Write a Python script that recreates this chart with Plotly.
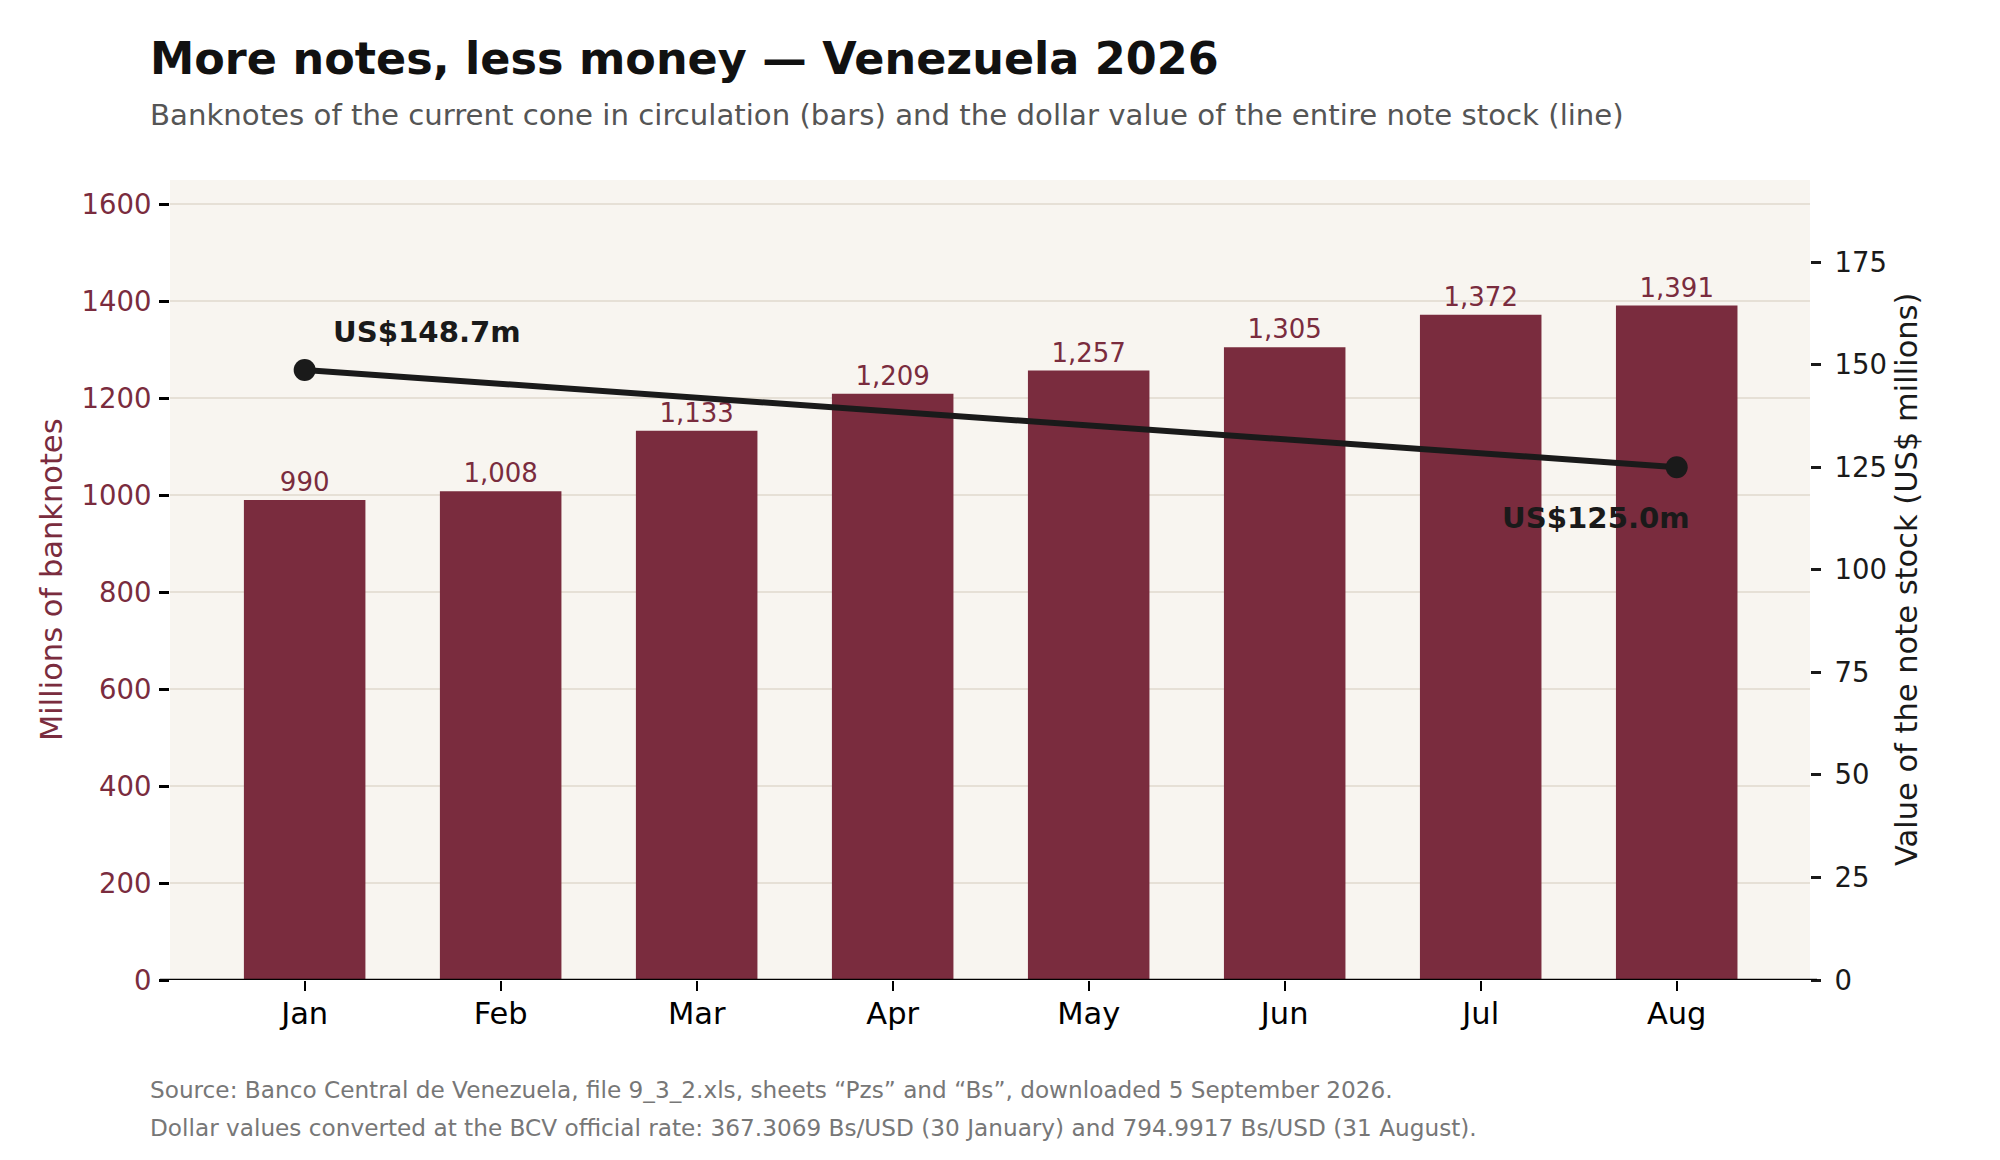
import plotly.graph_objects as go

# ---- data ----
months = ["Jan", "Feb", "Mar", "Apr", "May", "Jun", "Jul", "Aug"]
banknotes_millions = [990, 1008, 1133, 1209, 1257, 1305, 1372, 1391]
value_months = ["Jan", "Aug"]
value_usd_millions = [148.7, 125.0]
value_labels = ["US$148.7m", "US$125.0m"]
left_ticks = [0, 200, 400, 600, 800, 1000, 1200, 1400, 1600]
right_ticks = [0, 25, 50, 75, 100, 125, 150, 175]

# ---- styling ----
MAROON = "#7a2c3e"
DARK = "#1a1a1a"
BG = "#f8f5f0"
GRID = "#e6e0d6"
FONT = "DejaVu Sans"

OFF = 8  # page body margin
W, H = 2000 - OFF, 1160 - OFF
ML, MT = 170 - OFF, 180 - OFF
PW, PH = 1640, 800
MR, MB = W - ML - PW, H - MT - PH


def px_x(px):
    return (px - OFF - ML) / PW


def px_y(py):
    return (MT + PH - (py - OFF)) / PH


fig = go.Figure()

fig.add_trace(go.Bar(
    x=months, y=banknotes_millions,
    marker=dict(color=MAROON, line=dict(width=0)),
    width=0.62,
    text=banknotes_millions,
    texttemplate="%{y:,}",
    textposition="outside",
    textfont=dict(family=FONT, size=26, color=MAROON),
    cliponaxis=False,
    showlegend=False,
    yaxis="y",
))

fig.add_trace(go.Scatter(
    x=value_months, y=value_usd_millions,
    mode="lines+markers",
    line=dict(color=DARK, width=6),
    marker=dict(color=DARK, size=22),
    showlegend=False,
    yaxis="y2",
    cliponaxis=False,
))

annotations = [
    dict(text="<b>More notes, less money — Venezuela 2026</b>", x=px_x(147.5), y=px_y(59),
         xref="paper", yref="paper", xanchor="left", yanchor="middle", showarrow=False,
         font=dict(family=FONT, size=44.5, color="#111111")),
    dict(text="Banknotes of the current cone in circulation (bars) and the dollar value of the entire note stock (line)",
         x=px_x(147.5), y=px_y(114.5), xref="paper", yref="paper", xanchor="left", yanchor="middle",
         showarrow=False, font=dict(family=FONT, size=29.2, color="#555555")),
    dict(text="Source: Banco Central de Venezuela, file 9_3_2.xls, sheets “Pzs” and “Bs”, downloaded 5 September 2026.",
         x=px_x(147.5), y=px_y(1089), xref="paper", yref="paper", xanchor="left", yanchor="middle",
         showarrow=False, font=dict(family=FONT, size=23.2, color="#777777")),
    dict(text="Dollar values converted at the BCV official rate: 367.3069 Bs/USD (30 January) and 794.9917 Bs/USD (31 August).",
         x=px_x(147.5), y=px_y(1127), xref="paper", yref="paper", xanchor="left", yanchor="middle",
         showarrow=False, font=dict(family=FONT, size=23.2, color="#777777")),
    dict(text="Millions of banknotes", x=px_x(51), y=0.5, xref="paper", yref="paper",
         xanchor="center", yanchor="middle", textangle=-90, showarrow=False,
         font=dict(family=FONT, size=30.5, color=MAROON)),
    dict(text="Value of the note stock (US$ millions)", x=px_x(1906), y=0.5, xref="paper", yref="paper",
         xanchor="center", yanchor="middle", textangle=-90, showarrow=False,
         font=dict(family=FONT, size=30.5, color=DARK)),
    dict(text="<b>%s</b>" % value_labels[0], x=value_months[0], y=value_usd_millions[0],
         xref="x", yref="y2", xanchor="left", yanchor="middle", xshift=26, yshift=38,
         showarrow=False, font=dict(family=FONT, size=29.2, color=DARK)),
    dict(text="<b>%s</b>" % value_labels[1], x=value_months[1], y=value_usd_millions[1],
         xref="x", yref="y2", xanchor="right", yanchor="middle", xshift=15, yshift=-51,
         showarrow=False, font=dict(family=FONT, size=29.2, color=DARK)),
]

fig.update_layout(
    width=W, height=H,
    margin=dict(l=ML, r=MR, t=MT, b=MB, autoexpand=False),
    paper_bgcolor="white",
    plot_bgcolor=BG,
    font=dict(family=FONT, color=DARK),
    annotations=annotations,
    xaxis=dict(
        type="category", categoryorder="array", categoryarray=months,
        range=[-0.687, 7.68],
        showgrid=False, zeroline=False, showline=False,
        ticks="outside", ticklen=10, tickwidth=2, tickcolor="black",
        tickfont=dict(family=FONT, size=30.5, color="black"),
        ticklabelstandoff=-4,
        fixedrange=True,
    ),
    yaxis=dict(
        range=[0, 1650], tickvals=left_ticks,
        showgrid=True, gridcolor=GRID, gridwidth=2,
        zeroline=False, showline=False,
        ticks="outside", ticklen=10, tickwidth=2.5, tickcolor="black",
        tickfont=dict(family=FONT, size=27.5, color=MAROON),
        ticklabelstandoff=2,
    ),
    yaxis2=dict(
        overlaying="y", side="right",
        range=[0, 195], tickvals=right_ticks,
        showgrid=False, zeroline=False, showline=False,
        ticks="outside", ticklen=10, tickwidth=2.5, tickcolor=DARK,
        tickfont=dict(family=FONT, size=27.5, color=DARK),
        ticklabelstandoff=8,
    ),
    shapes=[
        dict(type="line", xref="paper", yref="y", x0=px_x(160), x1=px_x(1817), y0=0, y1=0,
             line=dict(color="black", width=2.5), layer="above"),
    ],
)

fig.write_html("out.html")
